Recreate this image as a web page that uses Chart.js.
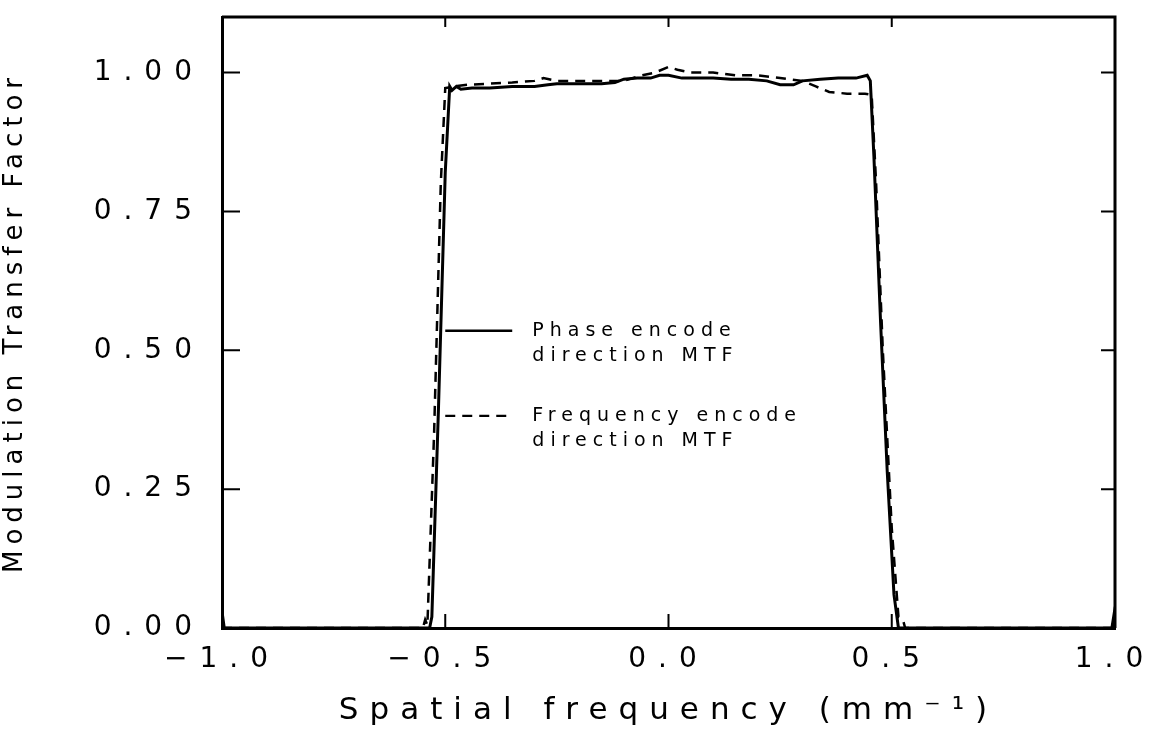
<!DOCTYPE html>
<html>
<head>
<meta charset="utf-8">
<script src="https://cdn.jsdelivr.net/npm/chart.js@4.4.1/dist/chart.umd.min.js"></script>
<style>
  body { margin: 0; background: #fff; }
  #wrap { width: 1155px; height: 732px; }
</style>
</head>
<body>
<div id="wrap"><canvas id="mtfChart"></canvas></div>
<script>
// valeurs
const phaseX = [-1.0, -0.995, -0.535, -0.53, -0.515, -0.50, -0.49, -0.485, -0.475, -0.465, -0.44, -0.40, -0.35, -0.30, -0.27, -0.25, -0.20, -0.15, -0.12, -0.10, -0.07, -0.04, -0.02, 0.0, 0.03, 0.06, 0.10, 0.14, 0.18, 0.22, 0.25, 0.28, 0.30, 0.34, 0.38, 0.42, 0.445, 0.452, 0.46, 0.475, 0.49, 0.505, 0.515, 0.993, 0.997, 1.0];
const phaseY = [0.03, 0.0, 0.0, 0.02, 0.40, 0.82, 0.975, 0.968, 0.975, 0.97, 0.972, 0.972, 0.975, 0.975, 0.978, 0.98, 0.98, 0.98, 0.982, 0.988, 0.99, 0.99, 0.995, 0.995, 0.99, 0.99, 0.99, 0.988, 0.988, 0.985, 0.978, 0.978, 0.985, 0.988, 0.99, 0.99, 0.995, 0.985, 0.85, 0.55, 0.28, 0.06, 0.0, 0.0, 0.02, 0.0];

const freqX = [-1.0, -0.55, -0.545, -0.54, -0.525, -0.51, -0.50, -0.48, -0.45, -0.40, -0.35, -0.30, -0.28, -0.25, -0.20, -0.15, -0.10, -0.06, -0.03, 0.0, 0.02, 0.05, 0.10, 0.15, 0.20, 0.25, 0.30, 0.33, 0.36, 0.40, 0.44, 0.455, 0.465, 0.48, 0.50, 0.515, 0.525, 0.53, 1.0];
const freqY = [0.0, 0.0, 0.015, 0.005, 0.35, 0.80, 0.972, 0.975, 0.978, 0.98, 0.982, 0.985, 0.99, 0.985, 0.985, 0.985, 0.985, 0.995, 1.0, 1.01, 1.005, 1.0, 1.0, 0.995, 0.995, 0.99, 0.985, 0.975, 0.965, 0.962, 0.962, 0.96, 0.80, 0.50, 0.18, 0.02, 0.015, 0.0, 0.0];

const xTickValues = [-1, -0.5, 0, 0.5, 1];
const xTickLabels = ['\u22121.0', '\u22120.5', '0.0', '0.5', '1.0'];
const yTickValues = [0, 0.25, 0.5, 0.75, 1.0];
const yTickLabels = ['0.00', '0.25', '0.50', '0.75', '1.00'];

const seriesLabels = [['Phase encode', 'direction MTF'], ['Frequency encode', 'direction MTF']];

const FONT = 'DejaVu Sans';

// espacement des lettres (le canvas de Chrome le gère)
const spacingPlugin = {
    id: 'spacing',
    afterLayout(chart) {
        const y = chart.scales.y;
        if (!y._spaced) {
            const orig = y.drawTitle.bind(y);
            y.drawTitle = function () {
                chart.ctx.letterSpacing = '6px';
                orig();
                chart.ctx.letterSpacing = '11px';
            };
            y._spaced = true;
        }
    },
    beforeDraw(chart) {
        chart.ctx.letterSpacing = '11px'; // titre de l'axe x
    },
    afterDatasetsDraw(chart) {
        chart.ctx.letterSpacing = '12px'; // graduations
    }
};

// cadre + graduations vers l'intérieur
const framePlugin = {
    id: 'frame',
    afterDraw(chart) {
        const { ctx, chartArea: a, scales } = chart;
        ctx.save();
        ctx.strokeStyle = '#000';
        ctx.lineWidth = 3;
        ctx.beginPath();
        ctx.moveTo(a.left, a.top);
        ctx.lineTo(a.right, a.top);
        ctx.lineTo(a.right, a.bottom);
        ctx.stroke();
        ctx.lineWidth = 2;
        ctx.beginPath();
        yTickValues.forEach(v => {
            const py = scales.y.getPixelForValue(v);
            ctx.moveTo(a.left, py); ctx.lineTo(a.left + 18, py);
            ctx.moveTo(a.right, py); ctx.lineTo(a.right - 14, py);
        });
        xTickValues.forEach(v => {
            const px = scales.x.getPixelForValue(v);
            ctx.moveTo(px, a.bottom); ctx.lineTo(px, a.bottom - 14);
            ctx.moveTo(px, a.top); ctx.lineTo(px, a.top + 10);
        });
        ctx.stroke();
        ctx.restore();
    }
};

// légende dans le graphique
const legendPlugin = {
    id: 'innerLegend',
    afterDraw(chart) {
        const { ctx, scales } = chart;
        const x0 = scales.x.getPixelForValue(-0.5);
        const x1 = scales.x.getPixelForValue(-0.35);
        const tx = scales.x.getPixelForValue(-0.305);
        const rows = [
            { y: 0.535, dash: [], w: 2.5 },
            { y: 0.382, dash: [10, 7], w: 2.2 }
        ];
        ctx.save();
        ctx.letterSpacing = '6px';
        ctx.font = '19px "' + FONT + '"';
        ctx.fillStyle = '#000';
        ctx.textBaseline = 'middle';
        rows.forEach((r, i) => {
            const py = scales.y.getPixelForValue(r.y);
            ctx.strokeStyle = '#000';
            ctx.lineWidth = r.w;
            ctx.setLineDash(r.dash);
            ctx.beginPath();
            ctx.moveTo(x0, py); ctx.lineTo(x1, py);
            ctx.stroke();
            ctx.fillText(seriesLabels[i][0], tx, py);
            ctx.fillText(seriesLabels[i][1], tx, py + 25);
        });
        ctx.restore();
    }
};

const ctx = document.getElementById('mtfChart').getContext('2d');

const chart = new Chart(ctx, {
    type: 'line',
    data: {
        datasets: [
            {
                label: 'Phase encode direction MTF',
                data: phaseX.map((x, i) => ({ x: x, y: phaseY[i] })),
                borderColor: '#000',
                borderWidth: 3,
                pointRadius: 0,
                tension: 0
            },
            {
                label: 'Frequency encode direction MTF',
                data: freqX.map((x, i) => ({ x: x, y: freqY[i] })),
                borderColor: '#000',
                borderWidth: 2.5,
                borderDash: [10, 7],
                pointRadius: 0,
                tension: 0
            }
        ]
    },
    options: {
        responsive: true,
        maintainAspectRatio: false,
        animation: false,
        layout: { padding: { top: 17, right: 40, bottom: 0, left: 0 } },
        plugins: { legend: { display: false }, tooltip: { enabled: false } },
        scales: {
            x: {
                type: 'linear',
                min: -1,
                max: 1,
                afterBuildTicks(s) { s.ticks = xTickValues.map(v => ({ value: v })); },
                afterFit(s) { s.height = 104; s.paddingLeft = 0; s.paddingRight = 0; },
                grid: { display: false, drawTicks: false },
                border: { display: true, color: '#000', width: 3 },
                ticks: {
                    z: 1,
                    padding: 15,
                    autoSkip: false,
                    maxRotation: 0,
                    color: '#000',
                    font: { family: FONT, size: 28 },
                    callback: v => xTickLabels[xTickValues.indexOf(v)]
                },
                title: {
                    display: true,
                    text: 'Spatial frequency (mm\u207B\u00B9)',
                    color: '#000',
                    font: { family: FONT, size: 31 },
                    padding: { top: 0, bottom: 2 }
                }
            },
            y: {
                type: 'linear',
                min: 0,
                max: 1.1,
                afterBuildTicks(s) { s.ticks = yTickValues.map(v => ({ value: v })); },
                afterFit(s) { s.width = 222; s.paddingTop = 0; s.paddingBottom = 0; },
                grid: { display: false, drawTicks: false },
                border: { display: true, color: '#000', width: 3 },
                ticks: {
                    z: 1,
                    padding: 18,
                    autoSkip: false,
                    color: '#000',
                    font: { family: FONT, size: 28 },
                    callback: v => yTickLabels[yTickValues.indexOf(v)]
                },
                title: {
                    display: true,
                    text: 'Modulation Transfer Factor',
                    color: '#000',
                    font: { family: FONT, size: 26 },
                    padding: { top: 0, bottom: 19 }
                }
            }
        }
    },
    plugins: [spacingPlugin, framePlugin, legendPlugin]
});
</script>
</body>
</html>
